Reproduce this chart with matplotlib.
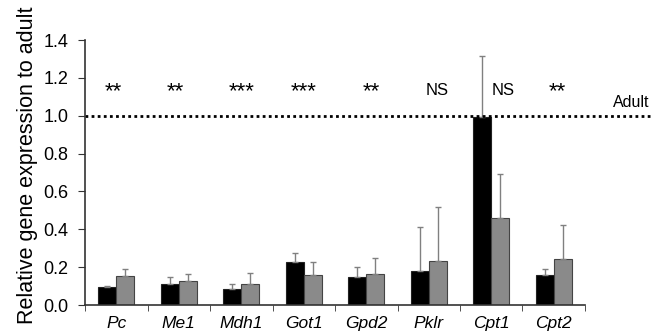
import matplotlib
matplotlib.use('Agg')
import matplotlib.pyplot as plt
import numpy as np
from matplotlib.transforms import blended_transform_factory

plt.rcParams['font.family'] = ['Liberation Sans', 'DejaVu Sans']

# Datos
genes = ['Pc', 'Me1', 'Mdh1', 'Got1', 'Gpd2', 'Pklr', 'Cpt1', 'Cpt2']
black_vals = [0.097, 0.111, 0.085, 0.229, 0.150, 0.180, 0.991, 0.157]
black_err = [0.005, 0.039, 0.026, 0.046, 0.050, 0.234, 0.324, 0.035]
gray_vals = [0.153, 0.128, 0.109, 0.157, 0.162, 0.232, 0.461, 0.245]
gray_err = [0.036, 0.036, 0.058, 0.072, 0.088, 0.287, 0.229, 0.178]
signif = ['**', '**', '***', '***', '**', 'NS', 'NS', '**']
yticks = [0.0, 0.2, 0.4, 0.6, 0.8, 1.0, 1.2, 1.4]

fig = plt.figure(figsize=(6.57, 3.31), dpi=100)
ax = fig.add_axes([0.1294, 0.0785, 0.761, 0.8006])

x = np.arange(len(genes))
w = 0.29
ax.bar(x - w/2, black_vals, w, color='black', edgecolor='#222222', linewidth=0.8,
       yerr=[np.zeros(len(genes)), black_err], ecolor='#808080',
       error_kw=dict(elinewidth=1.0, capsize=2, capthick=1.0))
ax.bar(x + w/2, gray_vals, w, color='#8a8a8a', edgecolor='#444444', linewidth=0.8,
       yerr=[np.zeros(len(genes)), gray_err], ecolor='#808080',
       error_kw=dict(elinewidth=1.0, capsize=2, capthick=1.0))

ax.set_xlim(-0.5, len(genes) - 0.5)
ax.set_ylim(0, 1.4)
ax.set_yticks(yticks)
ax.set_yticklabels([f'{v:.1f}' for v in yticks], fontsize=13)
ax.set_xticks(x)
ax.set_xticklabels(genes, fontsize=12.5, style='italic')
ax.tick_params(axis='x', which='major', length=0, pad=8)
ax.set_xticks(np.arange(-0.5, len(genes)), minor=True)
ax.tick_params(axis='x', which='minor', length=4, direction='out', color='#333333')
ax.tick_params(axis='y', length=5, direction='out', color='#333333', pad=7)

for s in ['top', 'right']:
    ax.spines[s].set_visible(False)
for s in ['left', 'bottom']:
    ax.spines[s].set_color('#333333')
    ax.spines[s].set_linewidth(1.2)

fig.text(0.042, 0.5, 'Relative gene expression to adult', rotation=90,
         ha='center', va='center', fontsize=15.5)

# Línea de referencia adulto
tr = blended_transform_factory(ax.transAxes, ax.transData)
ax.plot([0, 1.13], [1.0, 1.0], transform=tr, color='black', linestyle=(0, (1, 1.2)),
        linewidth=2, clip_on=False)
ax.text(1.128, 1.044, 'Adult', transform=tr, ha='right', va='baseline', fontsize=11.5)

# Significancia
offsets = [-0.05, -0.05, 0, 0, 0.08, 0.13, 0.19, 0.06]
for i, s in enumerate(signif):
    if s == 'NS':
        ax.text(x[i] + offsets[i], 1.11, s, ha='center', va='baseline', fontsize=12)
    else:
        ax.text(x[i] + offsets[i], 1.10, s, ha='center', va='baseline', fontsize=16)

fig.savefig('out.png', dpi=100)
